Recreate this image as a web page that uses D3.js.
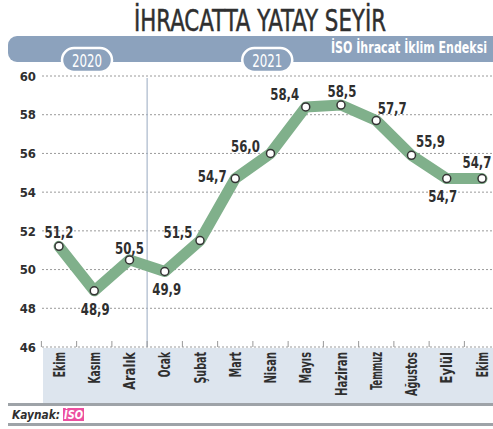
<!DOCTYPE html>
<html>
<head>
<meta charset="utf-8">
<script src="https://cdn.jsdelivr.net/npm/d3@7"></script>
<style>
  body { margin: 0; background: #fff; }
  svg { display: block; }
  text { font-family: "DejaVu Sans Condensed", "DejaVu Sans", sans-serif; font-stretch: condensed; }
</style>
</head>
<body>
<svg id="chart" width="493" height="429"></svg>
<script>
// veriler
const months = ["Ekim", "Kasım", "Aralık", "Ocak", "Şubat", "Mart", "Nisan", "Mayıs", "Haziran", "Temmuz", "Ağustos", "Eylül", "Ekim"];
const values = [51.2, 48.9, 50.5, 49.9, 51.5, 54.7, 56.0, 58.4, 58.5, 57.7, 55.9, 54.7, 54.7];
const years = ["2020", "2021"];
const yTicks = [46, 48, 50, 52, 54, 56, 58, 60];

const W = 493, H = 429;
const svg = d3.select("#chart");
const ink = "#2f2f2f";
const steel = "#8ca2bd";

// başlık
svg.append("text")
  .attr("x", 260).attr("y", 31)
  .attr("text-anchor", "middle")
  .attr("font-size", 31)
  .attr("fill", ink)
  .attr("stroke", ink).attr("stroke-width", 0.5)
  .attr("textLength", 252).attr("lengthAdjust", "spacingAndGlyphs")
  .text("İHRACATTA YATAY SEYİR");

// üst bant
svg.append("rect")
  .attr("x", 8).attr("y", 36).attr("width", W + 20).attr("height", 26)
  .attr("rx", 9).attr("fill", steel);

svg.append("text")
  .attr("x", 331).attr("y", 53)
  .attr("font-size", 15).attr("font-weight", "bold")
  .attr("fill", "#fff")
  .attr("textLength", 156).attr("lengthAdjust", "spacingAndGlyphs")
  .text("İSO İhracat İklim Endeksi");

const x = d3.scalePoint().domain(d3.range(months.length)).range([59, 482]);
const y = d3.scaleLinear().domain([46, 60]).range([347, 76]);
const step = x.step();

// yıl etiketleri
const yearPos = [x(0) + 28, x(5) + 32];
years.forEach((yr, i) => {
  const g = svg.append("g").attr("transform", `translate(${yearPos[i]},60)`);
  g.append("rect")
    .attr("x", -25).attr("y", -12).attr("width", 50).attr("height", 24)
    .attr("rx", 12).attr("fill", steel)
    .attr("stroke", "#fff").attr("stroke-width", 2.5);
  g.append("text")
    .attr("y", 6.5).attr("text-anchor", "middle")
    .attr("font-size", 18).attr("fill", "#fff")
    .attr("textLength", 30).attr("lengthAdjust", "spacingAndGlyphs")
    .text(yr);
});

// ay bandı
svg.append("rect")
  .attr("x", 43).attr("y", 348).attr("width", W - 43).attr("height", 55)
  .attr("fill", "#dde5ee");

// ızgara
svg.append("g")
  .selectAll("line")
  .data(yTicks)
  .join("line")
  .attr("x1", 42).attr("x2", W)
  .attr("y1", d => y(d)).attr("y2", d => y(d))
  .attr("stroke", "#9a9a9a").attr("stroke-width", 1)
  .attr("stroke-dasharray", "2,2");

// y ekseni
const yAxis = svg.append("g")
  .attr("transform", "translate(36,0)")
  .call(d3.axisLeft(y).tickValues(yTicks).tickSize(0).tickPadding(0));
yAxis.select(".domain").remove();
yAxis.selectAll("text")
  .attr("font-size", 13).attr("font-weight", "bold")
  .attr("fill", ink)
  .attr("font-family", "DejaVu Sans Condensed, DejaVu Sans, sans-serif");

// 2020 / 2021 ayırıcı
svg.append("line")
  .attr("x1", (x(2) + x(3)) / 2).attr("x2", (x(2) + x(3)) / 2)
  .attr("y1", 78).attr("y2", 347)
  .attr("stroke", "#a9b8cb").attr("stroke-width", 1.2);

// x ekseni işaretleri
svg.append("g")
  .selectAll("line")
  .data(d3.range(months.length))
  .join("line")
  .attr("x1", d => x(d) - step / 2).attr("x2", d => x(d) - step / 2)
  .attr("y1", 341).attr("y2", 347)
  .attr("stroke", "#999");

// ay etiketleri
svg.append("g")
  .selectAll("text")
  .data(months)
  .join("text")
  .attr("transform", (d, i) => `translate(${x(i) + 5.5},352) rotate(-90)`)
  .attr("text-anchor", "end")
  .attr("font-size", 15).attr("font-weight", "bold")
  .attr("fill", ink)
  .attr("textLength", d => d.length * 6.3).attr("lengthAdjust", "spacingAndGlyphs")
  .text(d => d);

// çizgi
const line = d3.line()
  .x((d, i) => x(i))
  .y(d => y(d));

svg.append("path")
  .datum(values)
  .attr("d", line)
  .attr("fill", "none")
  .attr("stroke", "#80b08b")
  .attr("stroke-width", 11)
  .attr("stroke-linejoin", "round")
  .attr("stroke-linecap", "round");

svg.append("g")
  .selectAll("circle")
  .data(values)
  .join("circle")
  .attr("cx", (d, i) => x(i)).attr("cy", d => y(d))
  .attr("r", 4)
  .attr("fill", "#fff").attr("stroke", "#333").attr("stroke-width", 1.5);

// değer etiketleri (nokta merkezine göre kaydırma)
const labelPos = [[0, -8], [1, 24], [0, -6], [2, 23], [-22, -3], [-23, 3], [-25, -1],
  [-21, -7], [1, -8], [16, -7], [19, -8], [-4, 23], [-5, -11]];

svg.append("g")
  .selectAll("text")
  .data(values)
  .join("text")
  .attr("x", (d, i) => x(i) + labelPos[i][0])
  .attr("y", (d, i) => y(d) + labelPos[i][1])
  .attr("text-anchor", "middle")
  .attr("font-size", 16).attr("font-weight", "bold")
  .attr("fill", ink)
  .attr("textLength", 29).attr("lengthAdjust", "spacingAndGlyphs")
  .text(d => d3.format(".1f")(d).replace(".", ","));

// alt kısım
svg.append("rect").attr("x", 8).attr("y", 403).attr("width", W).attr("height", 3).attr("fill", "#9ea3a8");
svg.append("rect").attr("x", 8).attr("y", 423).attr("width", W).attr("height", 3).attr("fill", "#9ea3a8");

svg.append("text")
  .attr("x", 12).attr("y", 419)
  .attr("font-size", 13).attr("font-weight", "bold").attr("font-style", "italic")
  .attr("font-family", "DejaVu Sans, sans-serif")
  .attr("fill", ink)
  .attr("textLength", 48).attr("lengthAdjust", "spacingAndGlyphs")
  .text("Kaynak:");

svg.append("rect").attr("x", 63).attr("y", 408).attr("width", 21).attr("height", 13).attr("fill", "#ec4fa0");
svg.append("text")
  .attr("x", 64).attr("y", 419)
  .attr("font-size", 13).attr("font-weight", "bold").attr("font-style", "italic")
  .attr("font-family", "DejaVu Sans, sans-serif")
  .attr("fill", "#fff")
  .attr("textLength", 19).attr("lengthAdjust", "spacingAndGlyphs")
  .text("İSO");
</script>
</body>
</html>
